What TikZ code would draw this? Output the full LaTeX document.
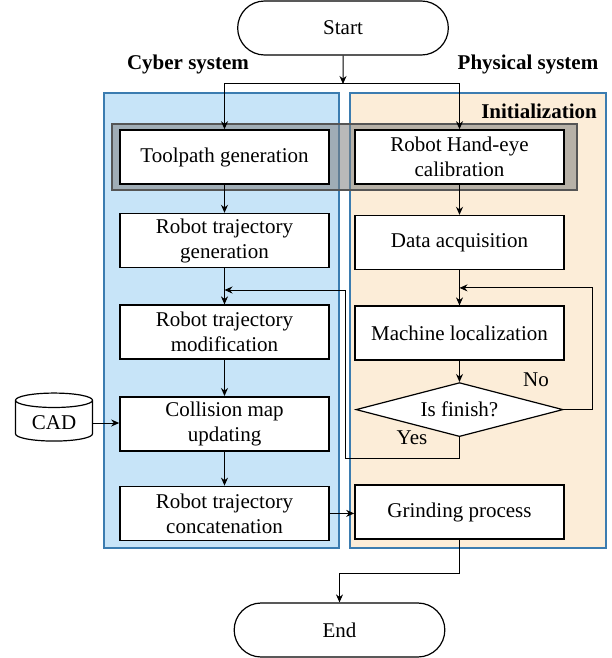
\documentclass[tikz,border=0pt]{standalone}
\usepackage{fontspec}
\setmainfont{Liberation Serif}
\usetikzlibrary{positioning, arrows.meta, shapes.geometric, shapes.misc, calc}
\definecolor{cyberfill}{HTML}{C7E4F8}
\definecolor{physfill}{HTML}{FCEDD8}
\definecolor{panelline}{HTML}{3B7CB0}
\definecolor{initline}{HTML}{555555}

\begin{document}
\begin{tikzpicture}[
    x=0.5pt, y=-0.5pt,
    node distance=14pt and 10pt,
    every node/.style={font=\fontsize{10.5}{12.5}\selectfont},
    proc/.style={draw, fill=white, line width=0.8pt, minimum width=104.5pt,
        minimum height=27pt, align=center, inner sep=1pt},
    term/.style={draw, rounded rectangle, line width=0.6pt,
        minimum width=112pt, minimum height=27pt},
    check/.style={draw, diamond, fill=white, line width=0.6pt, aspect=3.8,
        minimum width=103.5pt, minimum height=27pt, inner sep=0pt},
    store/.style={draw, cylinder, shape border rotate=90, aspect=0.25,
        line width=0.6pt, minimum width=38.5pt, minimum height=24pt},
    titulo/.style={font=\fontsize{10.5}{12.5}\selectfont\bfseries},
    flecha/.style={-{Stealth[length=4pt, width=3.5pt]}, line width=0.5pt}
]
\useasboundingbox (0,0) rectangle (611,658);

% the two system panels and the initialization band
\filldraw[fill=cyberfill, draw=panelline, line width=0.8pt] (104,93) rectangle (339,548);
\filldraw[fill=physfill, draw=panelline, line width=0.8pt] (350,93) rectangle (606,548);
\draw[draw=initline, line width=1.3pt, fill=gray, fill opacity=0.55] (112,124) rectangle (577,190);

\node[titulo] (cyber) at (188,64) {Cyber system};
\node[titulo] (phys) at (528,64) {Physical system};
\node[titulo] (init) at (539,111) {Initialization};

\node[term] (start) at (343,28) {Start};

% cyber side
\node[proc] (tool) at (224.5,157) {Toolpath generation};
\node[proc, below=14pt of tool] (gen) {Robot trajectory\\generation};
\node[proc, below=18pt of gen] (mod) {Robot trajectory\\modification};
\node[proc, below=18pt of mod] (coll) {Collision map\\updating};
\node[proc, below=17pt of coll] (cat) {Robot trajectory\\concatenation};
\node[store] (cad) at (54,423) {CAD};

% physical side
\node[proc] (hand) at (459.5,157) {Robot Hand-eye\\calibration};
\node[proc, below=15pt of hand] (data) {Data acquisition};
\node[proc, below=17.5pt of data] (mach) {Machine localization};
\node[check, below=10.5pt of mach] (chk) {Is finish?};
\node[proc, below=23.5pt of chk] (grind) {Grinding process};

\node[term] (end) at (339.5,630) {End};

\node (yes) at (412,438) {Yes};
\node (no) at (536,380) {No};

\coordinate (split) at (343,84);
\coordinate (noin) at ($(data.south)!0.5!(mach.north)$);
\coordinate (yesin) at ($(gen.south)!0.6!(mod.north)$);

\draw[flecha] (start) -- (split);
\draw[flecha] (split) -| (tool.north);
\draw[flecha] (split) -| (hand.north);
\draw[flecha] (tool) -- (gen);
\draw[flecha] (gen) -- (mod);
\draw[flecha] (mod) -- (coll);
\draw[flecha] (coll) -- (cat);
\draw[flecha] (cad.east) -- (cad.east -| coll.west);
\draw[flecha] (hand) -- (data);
\draw[flecha] (data) -- (mach);
\draw[flecha] (mach) -- (chk);
\draw[flecha] (chk.east) -- ++(29,0) |- (noin);
\draw[flecha] (chk.south) -- ++(0,21) -| ($(yesin)+(120.5,0)$) -- (yesin);
\draw[flecha] (cat.east) -- (cat.east -| grind.west);
\draw[flecha] (grind.south) -- ++(0,34) -| (end.north);
\end{tikzpicture}
\end{document}
